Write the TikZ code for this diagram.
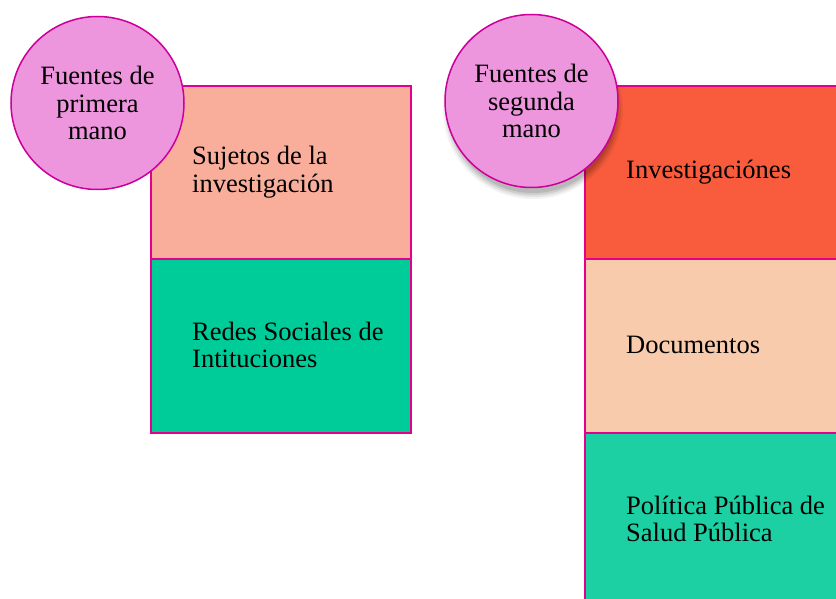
\documentclass[tikz,border=0pt]{standalone}
\usepackage{fontspec}
\setmainfont{Liberation Serif}
\definecolor{salmon}{HTML}{F9AE9B}
\definecolor{greenA}{HTML}{00CC99}
\definecolor{redB}{HTML}{F95C3C}
\definecolor{peach}{HTML}{F7CBAC}
\definecolor{greenB}{HTML}{1CD0A3}
\definecolor{edge}{HTML}{E3008C}
\definecolor{orchidfill}{HTML}{ED95DD}
\definecolor{orchidedge}{HTML}{CC0099}
\tikzset{
  cell/.style={draw=edge, line width=1.8pt, inner sep=0pt, anchor=north west},
  lbl/.style={anchor=west, align=left, inner sep=0pt, font=\fontsize{26.5}{27.5}\selectfont},
  disc/.style={circle, draw=orchidedge, line width=1.5pt, fill=orchidfill, minimum size=173pt, inner sep=0pt, align=center, font=\fontsize{26.5}{27.5}\selectfont}
}
\begin{document}
\begin{tikzpicture}[x=1pt,y=-1pt]
\useasboundingbox (0,0) rectangle (836,599);
\clip (0,0) rectangle (836,599);
% left column
\node[cell, fill=salmon, minimum width=260pt, minimum height=173pt] (b1) at (150,85) {};
\node[cell, fill=greenA, minimum width=260pt, minimum height=174pt] (b2) at (150,258) {};
\node[lbl] (t1) at (192,172) {Sujetos de la\\investigación};
\node[lbl] (t2) at (192,345) {Redes Sociales de\\Intituciones};
% right column
\node[cell, fill=redB, minimum width=300pt, minimum height=173pt] (r1) at (584,85) {};
\node[cell, fill=peach, minimum width=300pt, minimum height=174pt] (r2) at (584,258) {};
\node[cell, fill=greenB, minimum width=300pt, minimum height=173pt] (r3) at (584,432) {};
\node[lbl] (u1) at (626,172) {Investigaciónes};
\node[lbl] (u2) at (626,345) {Documentos};
\node[lbl] (u3) at (626,519) {Política Pública de\\Salud Pública};
% circles
\node[disc] (c1) at (97.5,103) {Fuentes de\\primera\\mano};
\foreach \r/\o in {90/0.05,88/0.07,86/0.09,84/0.1}{
  \fill[black, opacity=\o] (533,109) circle (\r pt);
}
\node[disc] (c2) at (531.5,101) {Fuentes de\\segunda\\mano};
\end{tikzpicture}
\end{document}
